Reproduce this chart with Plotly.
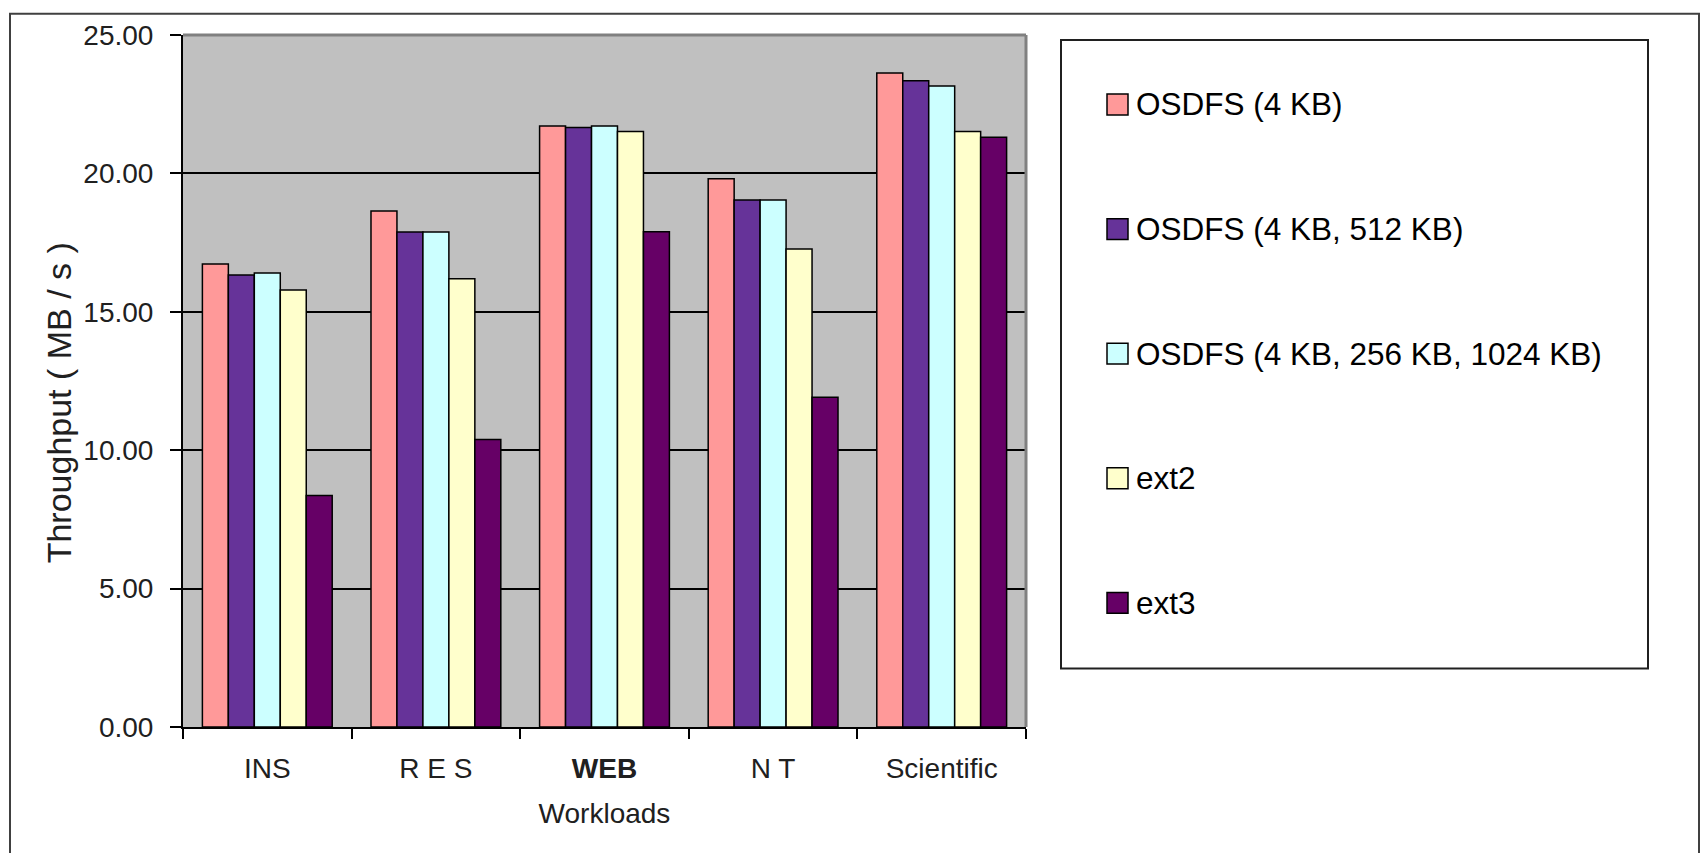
import plotly.graph_objects as go

# ---- data ----
categories = ["INS", "RES", "WEB", "NT", "Scientific"]
tick_labels = ["INS", "R E S", "<b>WEB</b>", "N T", "Scientific"]
series_names = ["OSDFS (4 KB)", "OSDFS (4 KB, 512 KB)", "OSDFS (4 KB, 256 KB, 1024 KB)", "ext2", "ext3"]
osdfs_4kb = [16.73, 18.64, 21.71, 19.81, 23.63]
osdfs_4kb_512kb = [16.33, 17.88, 21.66, 19.04, 23.35]
osdfs_4kb_256kb_1024kb = [16.40, 17.88, 21.71, 19.04, 23.16]
ext2 = [15.79, 16.19, 21.51, 17.27, 21.51]
ext3 = [8.36, 10.39, 17.89, 11.91, 21.31]
y_ticks = [0, 5, 10, 15, 20, 25]

series_values = [osdfs_4kb, osdfs_4kb_512kb, osdfs_4kb_256kb_1024kb, ext2, ext3]
colors = ["#FF9999", "#663399", "#CCFFFF", "#FFFFCC", "#660066"]

FONT = "Liberation Sans, Arial, sans-serif"
W, H = 1708, 853
OFF = 8  # page body offset of the figure in the screenshot
# plot area in screen pixels
PX0, PX1, PY0, PY1 = 183, 1026, 30, 727
L, R, T, B = PX0 - OFF, W - (PX1 - OFF), PY0 - OFF, H - (PY1 - OFF)
PW, PH = PX1 - PX0, PY1 - PY0


def px_x(px):
    return (px - PX0) / PW


def px_y(py):
    return (PY1 - py) / PH


fig = go.Figure()
for name, vals, col in zip(series_names, series_values, colors):
    fig.add_trace(go.Bar(
        x=categories, y=vals, name=name,
        marker=dict(color=col, line=dict(color="#000000", width=1.5)),
        showlegend=False,
    ))

shapes = []
annotations = []

# outer chart border
shapes.append(dict(type="rect", xref="paper", yref="paper",
                   x0=px_x(10), x1=px_x(1699), y0=px_y(880), y1=px_y(8.7),
                   line=dict(color="#404040", width=2), layer="below"))
# plot-area gray border (top and right)
shapes.append(dict(type="line", xref="paper", yref="paper",
                   x0=0, x1=1, y0=1, y1=1,
                   line=dict(color="#808080", width=3), layer="above"))
shapes.append(dict(type="line", xref="paper", yref="paper",
                   x0=1, x1=1, y0=0, y1=1,
                   line=dict(color="#808080", width=3), layer="above"))
# legend box
shapes.append(dict(type="rect", xref="paper", yref="paper",
                   x0=px_x(1061), x1=px_x(1648), y0=px_y(668), y1=px_y(35),
                   line=dict(color="#202020", width=2), fillcolor="white", layer="below"))

# legend entries
for i, (name, col) in enumerate(zip(series_names, colors)):
    cy = 100 + i * 125.5
    shapes.append(dict(type="rect", xref="paper", yref="paper",
                       x0=px_x(1107), x1=px_x(1128), y0=px_y(cy + 10.5), y1=px_y(cy - 10.5),
                       line=dict(color="#000000", width=1.5), fillcolor=col, layer="above"))
    annotations.append(dict(xref="paper", yref="paper", x=px_x(1134), y=px_y(cy),
                            text=name, showarrow=False, xanchor="left", yanchor="middle",
                            font=dict(family=FONT, size=31.5, color="#000000")))

# y-axis title
annotations.append(dict(xref="paper", yref="paper", x=px_x(59), y=px_y(401),
                        text="Throughput ( MB / s )", showarrow=False, textangle=-90,
                        xanchor="center", yanchor="middle",
                        font=dict(family=FONT, size=34, color="#202020")))

fig.update_layout(
    width=W, height=H,
    margin=dict(l=L, r=R, t=T, b=B, pad=0),
    paper_bgcolor="white",
    plot_bgcolor="#C0C0C0",
    barmode="group",
    bargap=0.23,
    bargroupgap=0,
    shapes=shapes,
    annotations=annotations,
    font=dict(family=FONT, size=28, color="#202020"),
    xaxis=dict(
        type="category",
        tickmode="array", tickvals=categories, ticktext=tick_labels,
        tickson="boundaries",
        ticks="outside", ticklen=10, tickwidth=1.5, tickcolor="#000000",
        ticklabelstandoff=15,
        showline=True, linecolor="#000000", linewidth=2,
        showgrid=False,
        tickfont=dict(family=FONT, size=28, color="#202020"),
        title=dict(text="Workloads", font=dict(family=FONT, size=28, color="#202020"), standoff=21),
        fixedrange=True,
    ),
    yaxis=dict(
        range=[0, 25],
        tickmode="array", tickvals=y_ticks,
        tickformat=".2f",
        ticks="outside", ticklen=11, tickwidth=1.5, tickcolor="#000000",
        ticklabelstandoff=11,
        showline=True, linecolor="#000000", linewidth=2,
        showgrid=True, gridcolor="#000000", gridwidth=1.5,
        zeroline=False,
        tickfont=dict(family=FONT, size=28, color="#202020"),
        fixedrange=True,
    ),
)

fig.write_html("out.html")
